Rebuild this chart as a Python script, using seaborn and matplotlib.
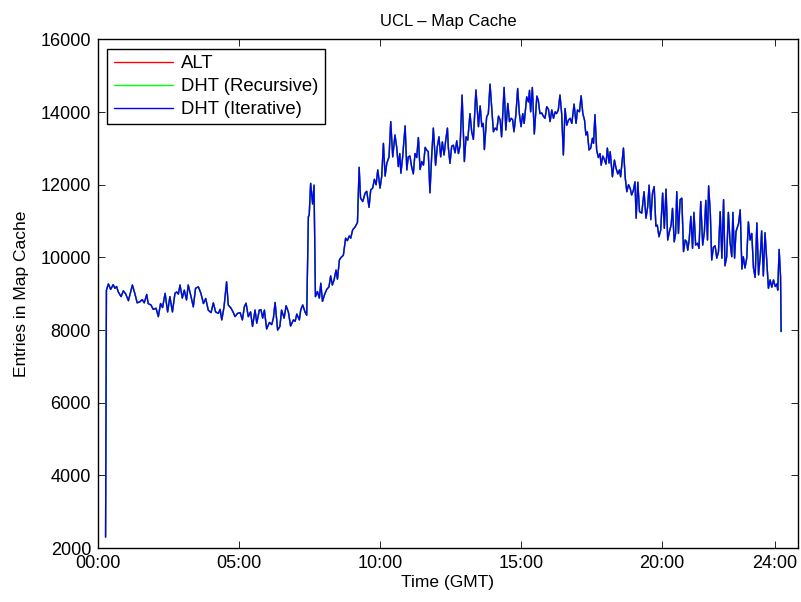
import numpy as np
import pandas as pd
import matplotlib
matplotlib.use("Agg")
import matplotlib.pyplot as plt
import seaborn as sns

# ---- data (hours since 00:00 GMT, entries in map cache) ----
hours = [
    0.27, 0.30, 0.37, 0.45, 0.54, 0.60, 0.66, 0.72, 0.82, 0.90, 0.98, 1.08, 1.22, 1.31, 1.39, 1.49,
    1.57, 1.64, 1.73, 1.78, 1.88, 1.96, 2.06, 2.14, 2.22, 2.29, 2.38, 2.47, 2.55, 2.64, 2.73, 2.79,
    2.85, 2.91, 2.99, 3.06, 3.14, 3.20, 3.30, 3.38, 3.46, 3.56, 3.65, 3.74, 3.82, 3.91, 4.01, 4.09,
    4.17, 4.27, 4.33, 4.39, 4.47, 4.56, 4.62, 4.72, 4.80, 4.86, 4.95,
    5.04, 5.12, 5.19, 5.25, 5.33, 5.41, 5.48, 5.57, 5.63, 5.72, 5.78, 5.84, 5.90, 5.98, 6.08, 6.16,
    6.22, 6.28, 6.37, 6.45, 6.51, 6.60, 6.67, 6.75, 6.83, 6.93, 6.99, 7.05, 7.14, 7.19, 7.26, 7.34,
    7.40, 7.46, 7.49, 7.54, 7.61, 7.66, 7.71, 7.78, 7.85, 7.90, 7.96, 8.03, 8.11, 8.19, 8.25, 8.31,
    8.37, 8.44, 8.49, 8.56, 8.62, 8.70, 8.78, 8.84, 8.91, 8.96, 9.03, 9.11, 9.20, 9.26, 9.31, 9.39,
    9.47, 9.53, 9.61, 9.67, 9.74,
    9.80, 9.86, 9.92, 10.00, 10.06, 10.12, 10.18, 10.24, 10.32, 10.38, 10.45, 10.53, 10.59, 10.65,
    10.70, 10.74, 10.80, 10.89, 10.95, 11.00, 11.06, 11.12, 11.18, 11.24, 11.30, 11.36, 11.42, 11.48,
    11.54, 11.60, 11.66, 11.71, 11.77, 11.83, 11.89, 11.97, 12.03, 12.09, 12.15, 12.21, 12.27, 12.33,
    12.39, 12.42, 12.48, 12.54, 12.60, 12.66, 12.72, 12.78, 12.84, 12.91, 12.99, 13.05, 13.11, 13.19,
    13.25, 13.31, 13.40, 13.49, 13.55, 13.61, 13.66, 13.70, 13.78, 13.84, 13.90, 13.96, 14.02, 14.08,
    14.14, 14.20, 14.26, 14.31, 14.40, 14.46, 14.53, 14.59,
    14.65, 14.70, 14.75, 14.82, 14.88, 14.94, 15.00, 15.06, 15.11, 15.20, 15.26, 15.30, 15.34, 15.40,
    15.47, 15.56, 15.61, 15.67, 15.73, 15.79, 15.85, 15.91, 15.97, 16.03, 16.09, 16.15, 16.21, 16.26,
    16.32, 16.38, 16.44, 16.50, 16.56, 16.62, 16.68, 16.74, 16.80, 16.88, 16.95, 17.00, 17.07, 17.13,
    17.19, 17.25, 17.30, 17.35, 17.41, 17.47, 17.53, 17.57, 17.62, 17.68, 17.74, 17.80, 17.84, 17.90,
    17.96, 18.01, 18.06, 18.12, 18.16, 18.24, 18.31, 18.37, 18.43, 18.49, 18.53, 18.63, 18.69, 18.75,
    18.81, 18.87, 18.92, 18.98, 19.04, 19.08, 19.14, 19.20, 19.28, 19.36,
    19.43, 19.49, 19.54, 19.60, 19.66, 19.72, 19.78, 19.83, 19.89, 19.95, 20.02, 20.08, 20.14, 20.20,
    20.26, 20.32, 20.37, 20.43, 20.48, 20.52, 20.58, 20.64, 20.70, 20.76, 20.82, 20.87, 20.91, 20.96,
    21.02, 21.08, 21.13, 21.19, 21.26, 21.31, 21.37, 21.44, 21.50, 21.55, 21.61, 21.65, 21.71, 21.76,
    21.82, 21.88, 21.94, 22.00, 22.06, 22.12, 22.18, 22.23, 22.29, 22.35, 22.41, 22.47, 22.51, 22.57,
    22.62, 22.71, 22.77, 22.83, 22.88, 22.94, 23.00, 23.06, 23.12, 23.18, 23.24, 23.30, 23.36, 23.42,
    23.48, 23.53, 23.59, 23.65, 23.71, 23.77, 23.83, 23.89, 23.95, 24.01, 24.07, 24.10, 24.15, 24.20,
    24.22,
]

entries = [
    2300, 9100, 9270, 9120, 9250, 9150, 9200, 9050, 8920, 9080, 9000, 8810, 9240, 9000, 8750, 8780,
    8840, 8750, 8980, 8730, 8690, 8570, 8600, 8370, 8730, 8620, 9010, 8500, 8920, 8500, 9010, 9050,
    8990, 9240, 8880, 9100, 8830, 9240, 8920, 8640, 9150, 9190, 9010, 8730, 8870, 8550, 8480, 8750,
    8500, 8460, 8570, 8280, 8640, 9330, 8690, 8600, 8480, 8370, 8460,
    8480, 8280, 8640, 8740, 8370, 8500, 8100, 8550, 8190, 8550, 8560, 8330, 8550, 8030, 8210, 8150,
    8330, 8760, 8000, 8100, 8550, 8330, 8670, 8500, 8110, 8280, 8240, 8440, 8280, 8560, 8690, 8500,
    8410, 11120, 11170, 12040, 11470, 11990, 8920, 9060, 8880, 9290, 8790, 8970, 9120, 9190, 9490, 9240,
    9380, 9650, 9400, 9930, 10000, 10060, 10530, 10460, 10590, 10530, 10760, 10830, 10960, 12480, 11630, 11540,
    11770, 11820, 11380, 11860, 11910,
    12150, 12000, 12410, 11910, 12230, 13140, 12240, 12590, 12770, 13740, 12770, 13370, 13040, 12500,
    12860, 12320, 12750, 13620, 12410, 12770, 12790, 12500, 12300, 12860, 12750, 13300, 12420, 12640,
    12540, 13030, 12950, 12910, 11780, 12770, 13560, 12540, 13040, 13320, 12770, 13180, 12820, 13230,
    13560, 13040, 12590, 13060, 13090, 12880, 13210, 12860, 13090, 14470, 12640, 13320, 13230, 13960,
    13460, 13250, 14610, 13600, 14170, 13600, 13690, 12970, 13870, 13960, 14770, 14100, 13460, 13560,
    13510, 13890, 13780, 13320, 14680, 13510, 14240, 13740,
    13830, 13790, 13460, 13960, 14650, 13960, 13600, 13960, 13690, 14420, 14280, 14600, 14010, 14680,
    13400, 14440, 14330, 13960, 13980, 13890, 13830, 14150, 14080, 13740, 14060, 13830, 14010, 13960,
    14060, 14470, 13960, 12820, 14100, 13640, 13780, 13830, 13690, 14220, 13690, 14060, 14010, 14450,
    13960, 13780, 13370, 13460, 12960, 13010, 13280, 13140, 13930, 12960, 12750, 12860, 12540, 12790,
    12680, 12570, 13010, 12600, 12910, 12220, 12680, 12450, 12300, 12410, 12220, 13010, 12220, 11810,
    12000, 11900, 11720, 11840, 12080, 11080, 12070, 11260, 11220, 11810,
    11080, 11400, 11990, 11040, 11770, 11950, 10860, 10890, 10570, 10750, 11770, 10800, 11880, 10480,
    10710, 10890, 11350, 10430, 10660, 11810, 10660, 11590, 11630, 10160, 10480, 10430, 10200, 10480,
    11130, 10250, 11240, 10340, 10390, 10250, 11540, 10340, 10710, 11570, 10480, 11970, 11220, 9930,
    10280, 10320, 9980, 10160, 11260, 9980, 11590, 9770, 10020, 11240, 10430, 10020, 11240, 9980,
    10710, 10930, 11310, 9680, 10020, 9710, 9980, 10980, 10480, 10660, 9710, 9450, 10950, 9520,
    10020, 10730, 9490, 10680, 9930, 9150, 9380, 9180, 9380, 9200, 9270, 9100, 10220, 9470,
    7960,
]

series_names = ["ALT", "DHT (Recursive)", "DHT (Iterative)"]
series_colors = ["#ff0000", "#00ff00", "#0000ff"]

tick_hours = [0, 5, 10, 15, 20, 24]
tick_labels = ["00:00", "05:00", "10:00", "15:00", "20:00", "24:00"]
y_ticks = [2000, 4000, 6000, 8000, 10000, 12000, 14000, 16000]

# the three series overlap completely in the picture
frames = []
for name in series_names:
    frames.append(pd.DataFrame({"Time": hours, "Entries": entries, "Series": name}))
df = pd.concat(frames, ignore_index=True)

# ---- plot ----
sns.set_theme(style="white")
plt.rcParams["font.family"] = ["Liberation Sans", "DejaVu Sans"]
plt.rcParams["text.color"] = "black"
plt.rcParams["axes.labelcolor"] = "black"
plt.rcParams["xtick.color"] = "black"
plt.rcParams["ytick.color"] = "black"

fig = plt.figure(figsize=(8.01, 6.02), dpi=100)
ax = fig.add_axes([0.1223, 0.0897, 0.8740, 0.8447])

sns.lineplot(
    data=df, x="Time", y="Entries", hue="Series",
    palette=series_colors, hue_order=series_names,
    estimator=None, sort=False, linewidth=1.0, ax=ax,
)

ax.set_xlim(0, 24.82)
ax.set_ylim(2000, 16000)
ax.set_xticks(tick_hours)
ax.set_xticklabels(tick_labels)
ax.set_yticks(y_ticks)
ax.tick_params(axis="both", which="both", direction="in", length=5, width=0.6,
               top=True, right=True, bottom=True, left=True, labelsize=13,
               colors="black", pad=5)

for s in ax.spines.values():
    s.set_visible(True)
    s.set_color("black")
    s.set_linewidth(1.0)

ax.set_title("UCL \u2013 Map Cache", fontsize=12, pad=10, color="black")
ax.set_xlabel("Time (GMT)", fontsize=12.5, labelpad=2)
ax.set_ylabel("Entries in Map Cache", fontsize=12.5, labelpad=8)

leg = ax.legend(loc="upper left", fontsize=13.3, frameon=True, fancybox=False,
                edgecolor="black", framealpha=1, borderaxespad=0.5,
                handlelength=3.2, handletextpad=0.45, labelspacing=0.32,
                borderpad=0.35, title=None)
leg.get_frame().set_linewidth(1.0)
for line in leg.get_lines():
    line.set_linewidth(1.0)
for txt in leg.get_texts():
    txt.set_color("black")

fig.savefig("out.png", dpi=100)
